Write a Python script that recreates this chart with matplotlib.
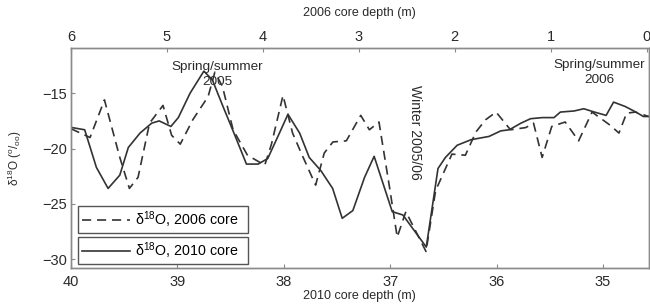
import matplotlib
matplotlib.use("Agg")
import matplotlib.pyplot as plt
import numpy as np

plt.rcParams['font.family'] = ['Liberation Sans', 'DejaVu Sans']
plt.rcParams['mathtext.fontset'] = 'custom'
plt.rcParams['mathtext.rm'] = 'Liberation Sans'

######## data ########
# 2010 core (bottom axis, depth in m)
depth_2010 = [39.99, 39.87, 39.76, 39.65, 39.54, 39.46, 39.35, 39.24, 39.17, 39.06,
              38.99, 38.88, 38.75, 38.67, 38.57, 38.48, 38.35, 38.24, 38.15, 38.04,
              37.96, 37.85, 37.76, 37.65, 37.54, 37.45, 37.35, 37.24, 37.15, 36.98,
              36.88, 36.66, 36.55, 36.48, 36.37, 36.24, 36.07, 35.96, 35.88, 35.77,
              35.68, 35.57, 35.46, 35.40, 35.27, 35.18, 35.08, 34.97, 34.90, 34.79,
              34.69, 34.62, 34.57]
d18O_2010 = [-18.1, -18.3, -21.7, -23.6, -22.4, -19.9, -18.6, -17.7, -17.5, -18.0,
             -17.2, -15.0, -13.0, -13.8, -16.2, -18.3, -21.4, -21.4, -20.9, -18.6,
             -16.9, -18.6, -20.8, -22.0, -23.6, -26.3, -25.6, -22.6, -20.7, -25.7,
             -26.0, -28.9, -21.8, -20.8, -19.7, -19.2, -18.9, -18.4, -18.3, -17.7,
             -17.3, -17.2, -17.2, -16.7, -16.6, -16.4, -16.7, -17.0, -15.8, -16.2,
             -16.7, -17.1, -17.1]
# 2006 core (top axis, depth in m)
depth_2006 = [6.00, 5.80, 5.65, 5.49, 5.39, 5.30, 5.18, 5.04, 4.95, 4.86,
              4.73, 4.57, 4.50, 4.42, 4.31, 4.16, 3.98, 3.91, 3.79, 3.69,
              3.59, 3.45, 3.36, 3.27, 3.13, 2.98, 2.89, 2.79, 2.68, 2.60,
              2.51, 2.30, 2.20, 2.03, 1.89, 1.78, 1.68, 1.57, 1.42, 1.26,
              1.18, 1.09, 0.99, 0.85, 0.71, 0.57, 0.38, 0.29, 0.21, 0.12, -0.02]
d18O_2006 = [-18.2, -19.0, -15.6, -20.8, -23.6, -22.6, -17.7, -16.1, -18.8, -19.6,
             -17.4, -15.3, -13.1, -14.4, -18.3, -20.6, -21.5, -19.6, -15.2, -18.6,
             -20.6, -23.3, -20.4, -19.4, -19.3, -17.0, -18.3, -17.6, -23.5, -28.0,
             -25.7, -29.3, -23.8, -20.5, -20.6, -18.5, -17.4, -16.7, -18.3, -18.1,
             -17.7, -20.8, -18.0, -17.6, -19.3, -16.7, -17.9, -18.6, -16.8, -16.7, -17.1]

bottom_ticks = [40, 39, 38, 37, 36, 35]
top_ticks = [6, 5, 4, 3, 2, 1, 0]
y_ticks = [-15, -20, -25, -30]

line_col = '#333333'
spine_col = '#8a8a8a'
txt_col = '#2a2a2a'

fig = plt.figure(figsize=(6.5, 3.05), dpi=100)
ax = fig.add_axes([0.109, 0.121, 0.889, 0.722])
ax2 = ax.twiny()

l2, = ax.plot(depth_2010, d18O_2010, color=line_col, lw=1.2, label='\u03b4$^{18}$O, 2010 core')
l1, = ax2.plot(depth_2006, d18O_2006, color=line_col, lw=1.2, ls=(0, (5.5, 3.5)),
               label='\u03b4$^{18}$O, 2006 core')

ax.set_xlim(40, 34.57)
ax2.set_xlim(6, -0.02)
ax.set_ylim(-30.8, -10.9)

ax.set_xticks(bottom_ticks)
ax2.set_xticks(top_ticks)
ax.set_yticks(y_ticks)
ax.set_yticklabels(['\u221215', '\u221220', '\u221225', '\u221230'])

for a in (ax, ax2):
    for s in a.spines.values():
        s.set_color(spine_col)
        s.set_linewidth(1.0)
    a.tick_params(direction='in', length=3, width=0.8, color=spine_col,
                  labelsize=10.5, labelcolor=txt_col, pad=5)
ax.tick_params(axis='y', pad=3)
ax2.tick_params(axis='x', pad=3)

ax.set_xlabel('2010 core depth (m)', fontsize=9, color=txt_col, labelpad=1)
ax2.set_xlabel('2006 core depth (m)', fontsize=9, color=txt_col, labelpad=10)
ax.set_ylabel('\u03b4$^{18}$O ($^{\\rm o}$/$_{\\rm oo}$)', fontsize=8.5, color=txt_col, labelpad=13)

ax.text(38.62, -13.3, 'Spring/summer\n2005', fontsize=9.7, color=txt_col,
        ha='center', va='center', linespacing=1.3)
ax.text(35.03, -13.1, 'Spring/summer\n2006', fontsize=9.7, color=txt_col,
        ha='center', va='center', linespacing=1.3)
ax.text(36.77, -18.5, 'Winter 2005/06', fontsize=10, color=txt_col,
        rotation=270, ha='center', va='center')

# two separate legend boxes
leg1 = ax.legend(handles=[l1], loc='lower left', bbox_to_anchor=(0.0126, 0.158, 0.294, 0.124),
                 mode='expand', borderaxespad=0, fancybox=False, edgecolor='#555555',
                 fontsize=10.3, handlelength=3.4, handletextpad=0.3, framealpha=1,
                 borderpad=0.25)
leg1.get_frame().set_linewidth(1.0)
ax.add_artist(leg1)
leg2 = ax.legend(handles=[l2], loc='lower left', bbox_to_anchor=(0.0126, 0.017, 0.294, 0.124),
                 mode='expand', borderaxespad=0, fancybox=False, edgecolor='#555555',
                 fontsize=10.3, handlelength=3.4, handletextpad=0.3, framealpha=1,
                 borderpad=0.25)
leg2.get_frame().set_linewidth(1.0)

fig.savefig('out.png', dpi=100)
